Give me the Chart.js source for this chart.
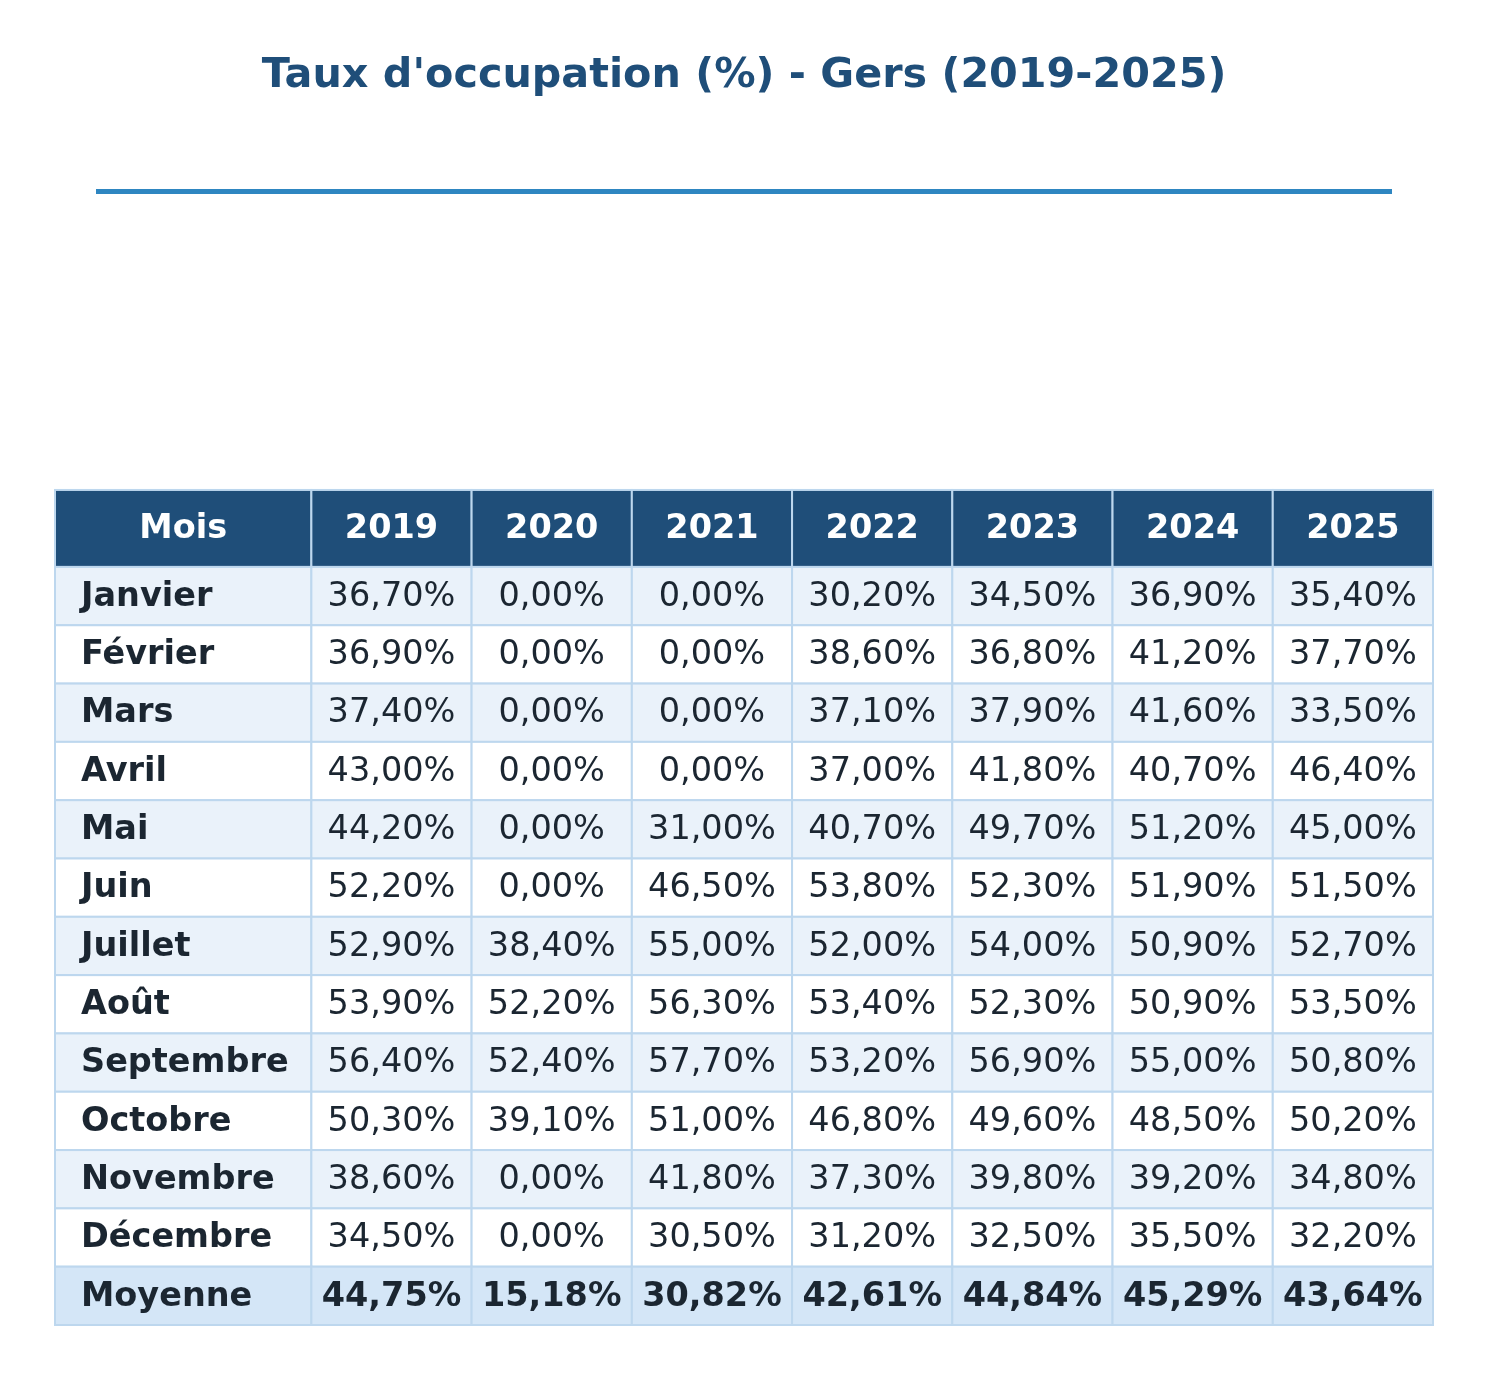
<!DOCTYPE html>
<html>
<head>
<meta charset="utf-8">
<script src="https://cdn.jsdelivr.net/npm/chart.js@4.4.1/dist/chart.umd.min.js"></script>
<style>
  body { margin: 0; background: #fff; }
</style>
</head>
<body>
<canvas id="c" width="1488" height="1380"></canvas>
<script>
const months = ['Janvier', 'Février', 'Mars', 'Avril', 'Mai', 'Juin', 'Juillet', 'Août',
  'Septembre', 'Octobre', 'Novembre', 'Décembre'];
const years = ['2019', '2020', '2021', '2022', '2023', '2024', '2025'];

const v2019 = [36.7, 36.9, 37.4, 43.0, 44.2, 52.2, 52.9, 53.9, 56.4, 50.3, 38.6, 34.5];
const v2020 = [0, 0, 0, 0, 0, 0, 38.4, 52.2, 52.4, 39.1, 0, 0];
const v2021 = [0, 0, 0, 0, 31.0, 46.5, 55.0, 56.3, 57.7, 51.0, 41.8, 30.5];
const v2022 = [30.2, 38.6, 37.1, 37.0, 40.7, 53.8, 52.0, 53.4, 53.2, 46.8, 37.3, 31.2];
const v2023 = [34.5, 36.8, 37.9, 41.8, 49.7, 52.3, 54.0, 52.3, 56.9, 49.6, 39.8, 32.5];
const v2024 = [36.9, 41.2, 41.6, 40.7, 51.2, 51.9, 50.9, 50.9, 55.0, 48.5, 39.2, 35.5];
const v2025 = [35.4, 37.7, 33.5, 46.4, 45.0, 51.5, 52.7, 53.5, 50.8, 50.2, 34.8, 32.2];
const moyenne = [44.75, 15.18, 30.82, 42.61, 44.84, 45.29, 43.64];

const series = [v2019, v2020, v2021, v2022, v2023, v2024, v2025];

// column / row edges in scale units (first column and header row are larger)
const colEdges = [0, 1.6];
years.forEach((y, i) => colEdges.push(2.6 + i));
const rowEdges = [0, 1.32];
for (let i = 0; i <= months.length; i++) rowEdges.push(2.32 + i);

const fmt = v => v.toFixed(2).replace('.', ',') + '%';

const DARK = '#1f4e79';
const TEXT = '#1b2631';
const BORDER = '#bdd7ee';
const FONT = '"DejaVu Sans", sans-serif';

// one point per value cell, at the cell centre
const cells = [];
series.forEach((arr, c) => {
  arr.forEach((v, r) => {
    cells.push({ x: (colEdges[c + 1] + colEdges[c + 2]) / 2, y: (rowEdges[r + 1] + rowEdges[r + 2]) / 2, v: v });
  });
});

const tablePlugin = {
  id: 'table',
  beforeDatasetsDraw(chart) {
    const ctx = chart.ctx;
    const xs = chart.scales.x, ys = chart.scales.y;
    const X = v => xs.getPixelForValue(v);
    const Y = v => ys.getPixelForValue(v);
    const nRows = months.length + 2;
    const nCols = years.length + 1;

    ctx.save();
    // line under the title
    ctx.strokeStyle = '#2e86c1';
    ctx.lineWidth = 5;
    ctx.beginPath();
    ctx.moveTo(96, 191.5);
    ctx.lineTo(1392, 191.5);
    ctx.stroke();

    for (let r = 0; r < nRows; r++) {
      let fill;
      if (r === 0) fill = DARK;
      else if (r === nRows - 1) fill = '#d4e6f7';
      else fill = (r % 2 === 1) ? '#eaf2fa' : '#ffffff';
      const y0 = Y(rowEdges[r]), y1 = Y(rowEdges[r + 1]);
      const yc = (y0 + y1) / 2 + 1;
      for (let c = 0; c < nCols; c++) {
        const x0 = X(colEdges[c]), x1 = X(colEdges[c + 1]);
        ctx.fillStyle = fill;
        ctx.fillRect(x0, y0, x1 - x0, y1 - y0);
        ctx.strokeStyle = BORDER;
        ctx.lineWidth = 2;
        ctx.strokeRect(x0, y0, x1 - x0, y1 - y0);

        let txt, align = 'center', tx = (x0 + x1) / 2, weight = 'normal', color = TEXT;
        if (r === 0) {
          txt = c === 0 ? 'Mois' : years[c - 1];
          weight = 'bold';
          color = '#ffffff';
        } else if (c === 0) {
          txt = r === nRows - 1 ? 'Moyenne' : months[r - 1];
          weight = 'bold';
          align = 'left';
          tx = x0 + 26;
        } else if (r === nRows - 1) {
          txt = fmt(moyenne[c - 1]);
          weight = 'bold';
        } else {
          txt = fmt(series[c - 1][r - 1]);
        }
        ctx.fillStyle = color;
        ctx.font = weight + ' 33.5px ' + FONT;
        ctx.textAlign = align;
        ctx.textBaseline = 'middle';
        ctx.fillText(txt, tx, yc);
      }
    }
    ctx.restore();
  }
};

new Chart(document.getElementById('c'), {
  type: 'scatter',
  data: {
    datasets: [{ data: cells, pointRadius: 0, pointHoverRadius: 0 }]
  },
  options: {
    responsive: false,
    animation: false,
    devicePixelRatio: 1,
    layout: { padding: { left: 55, right: 55, top: 0, bottom: 55 } },
    plugins: {
      legend: { display: false },
      tooltip: { enabled: false },
      title: {
        display: true,
        text: "Taux d'occupation (%) - Gers (2019-2025)",
        color: DARK,
        font: { family: FONT, size: 41.3, weight: 'bold', lineHeight: 1.2 },
        padding: { top: 51, bottom: 389.4 }
      }
    },
    scales: {
      x: { type: 'linear', min: 0, max: colEdges[colEdges.length - 1], display: false },
      y: { type: 'linear', min: 0, max: rowEdges[rowEdges.length - 1], reverse: true, display: false }
    }
  },
  plugins: [tablePlugin]
});
</script>
</body>
</html>
